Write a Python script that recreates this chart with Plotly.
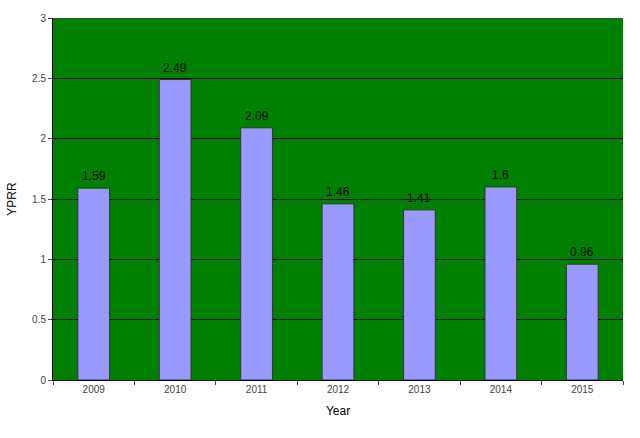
import plotly.graph_objects as go

years = ["2009", "2010", "2011", "2012", "2013", "2014", "2015"]
yprr = [1.59, 2.49, 2.09, 1.46, 1.41, 1.6, 0.96]
labels = ["1.59", "2.49", "2.09", "1.46", "1.41", "1.6", "0.96"]

fig = go.Figure(go.Bar(
    x=years, y=yprr,
    marker=dict(color="#9999FF", line=dict(color="#333333", width=1)),
))
for i, (yv, t) in enumerate(zip(yprr, labels)):
    fig.add_annotation(x=i, y=yv, text=t, showarrow=False, yanchor="bottom",
                       yshift=3, font=dict(family="Arial, Liberation Sans", size=12, color="black"))
fig.update_layout(
    width=640, height=438,
    margin=dict(l=53, r=17, t=18, b=58),
    paper_bgcolor="white", plot_bgcolor="#008000",
    bargap=0.61, showlegend=False,
    font=dict(family="Arial, Liberation Sans", size=10, color="#444444"),
)
fig.update_xaxes(
    type="category", tickson="boundaries", ticks="outside", ticklen=4,
    tickcolor="#444444", showline=True, linecolor="black", linewidth=1,
    title=dict(text="Year", font=dict(size=12, color="black"), standoff=12),
    tickfont=dict(size=10, color="#444444"),
)
fig.update_yaxes(
    range=[0, 3], dtick=0.5, ticks="outside", ticklen=4, tickcolor="#444444",
    showline=True, linecolor="black", linewidth=1,
    showgrid=True, gridcolor="black", gridwidth=1, zeroline=False,
    title=dict(text="YPRR", font=dict(size=12, color="black"), standoff=12),
    tickfont=dict(size=10, color="#444444"),
)
fig.write_html("out.html", config={"displayModeBar": False},
               post_script="document.body.style.margin='0';")
